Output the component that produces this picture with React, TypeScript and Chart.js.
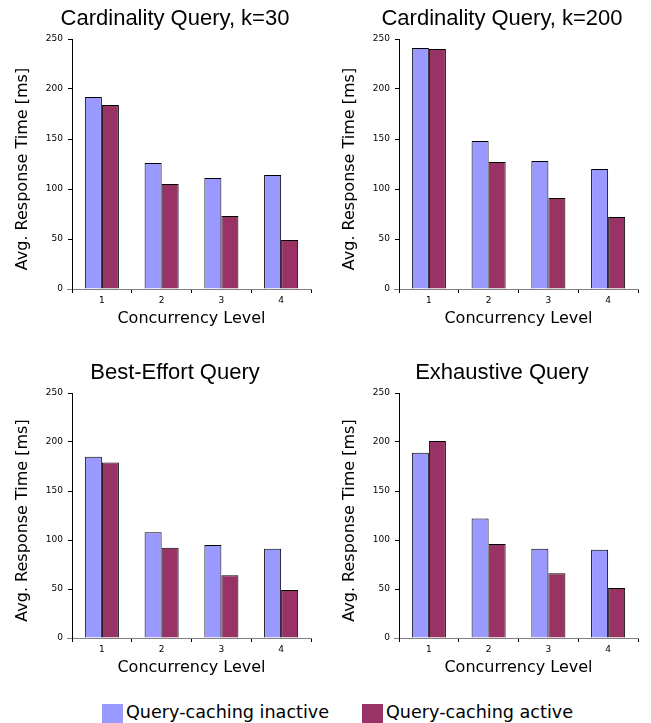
import React, { useEffect, useRef } from "react";
import { Chart, registerables } from "chart.js";

Chart.register(...registerables);

const categories = ["1", "2", "3", "4"];
const seriesNames = ["Query-caching inactive", "Query-caching active"];
const seriesColors = ["#9999ff", "#993366"];

const card30Inactive = [192, 126, 111, 114];
const card30Active = [184, 105, 73, 49];
const card200Inactive = [241, 148, 128, 120];
const card200Active = [240, 127, 91, 72];
const bestEffortInactive = [185, 108, 95, 91];
const bestEffortActive = [179, 92, 64, 49];
const exhaustiveInactive = [189, 122, 91, 90];
const exhaustiveActive = [201, 96, 66, 51];

const titles = [
  "Cardinality Query, k=30",
  "Cardinality Query, k=200",
  "Best-Effort Query",
  "Exhaustive Query",
];
const yTitle = "Avg. Response Time [ms]";
const xTitle = "Concurrency Level";
const yMin = 0;
const yMax = 250;
const yStep = 50;

const panelTextPlugin = {
  id: "panelText",
  afterDraw(chart: any, _args: any, opts: any) {
    const { ctx, chartArea } = chart;
    ctx.save();
    ctx.fillStyle = "#000";
    ctx.textAlign = "center";
    ctx.textBaseline = "alphabetic";
    ctx.font = '22px "Liberation Sans"';
    ctx.fillText(opts.title, opts.titleX, opts.titleBaseline);
    ctx.translate(opts.yTitleX, (chartArea.top + chartArea.bottom) / 2 + opts.yTitleShift);
    ctx.rotate(-Math.PI / 2);
    ctx.font = '16px "DejaVu Sans"';
    ctx.fillText(opts.yTitle, 0, 0);
    ctx.restore();
    // grey extension of the x axis line to the left of the y axis, as in the original
    ctx.save();
    ctx.strokeStyle = "#808080";
    ctx.lineWidth = 1;
    ctx.beginPath();
    ctx.moveTo(chartArea.left - 5, Math.round(chartArea.bottom) + 0.5);
    ctx.lineTo(chartArea.left, Math.round(chartArea.bottom) + 0.5);
    ctx.stroke();
    ctx.restore();
  },
};

type PanelProps = {
  title: string;
  inactive: number[];
  active: number[];
  left: number;
  top: number;
  width: number;
  height: number;
  areaTop: number;
  rightPad: number;
  titleBaseline: number;
};

function Panel(p: PanelProps) {
  const ref = useRef<HTMLCanvasElement | null>(null);
  useEffect(() => {
    if (!ref.current) return;
    const tickFont = { family: "DejaVu Sans", size: 9 };
    const chart = new Chart(ref.current, {
      type: "bar",
      data: {
        labels: categories,
        datasets: [p.inactive, p.active].map((d, i) => ({
          label: seriesNames[i],
          data: d,
          backgroundColor: seriesColors[i],
          borderColor: "#000",
          borderWidth: 1,
          categoryPercentage: 0.57,
          barPercentage: 1,
        })),
      },
      options: {
        responsive: false,
        animation: false,
        events: [],
        layout: { padding: { left: 0, right: p.rightPad, top: p.areaTop, bottom: 0 } },
        plugins: {
          legend: { display: false },
          tooltip: { enabled: false },
          title: { display: false },
          panelText: {
            title: p.title,
            titleX: 175,
            titleBaseline: p.titleBaseline,
            yTitle: yTitle,
            yTitleX: 27,
            yTitleShift: 5,
          },
        } as any,
        scales: {
          x: {
            grid: { offset: true, drawOnChartArea: false, drawTicks: true, tickLength: 4, color: "#000" },
            border: { display: true, color: "#808080", width: 1 },
            ticks: { font: tickFont, color: "#000", padding: 2 },
            title: {
              display: true,
              text: xTitle,
              color: "#000",
              font: { family: "DejaVu Sans", size: 16 },
              padding: { top: 0, bottom: 12 },
            },
            afterFit: (s: any) => {
              s.height = 51;
            },
          },
          y: {
            min: yMin,
            max: yMax,
            grid: { drawOnChartArea: false, drawTicks: true, tickLength: 4, color: "#000" },
            border: { display: true, color: "#000", width: 1 },
            ticks: { stepSize: yStep, font: tickFont, color: "#000", padding: 5 },
            afterFit: (s: any) => {
              s.width = 72;
            },
          },
        },
      },
      plugins: [panelTextPlugin],
    });
    return () => chart.destroy();
  }, []);
  return (
    <canvas
      ref={ref}
      width={p.width}
      height={p.height}
      style={{ position: "absolute", left: p.left, top: p.top, width: p.width, height: p.height, display: "block" }}
    />
  );
}

export default function App() {
  const legendText: React.CSSProperties = {
    fontFamily: '"DejaVu Sans"',
    fontSize: 17.6,
    lineHeight: "20px",
    color: "#000",
    whiteSpace: "nowrap",
  };
  const legendLeft = [102, 362];
  return (
    <div style={{ position: "absolute", left: 0, top: 0, width: 651, height: 723, overflow: "hidden", background: "#fff" }}>
      <Panel title={titles[0]} inactive={card30Inactive} active={card30Active} left={0} top={0} width={325} height={340} areaTop={39} rightPad={14} titleBaseline={25} />
      <Panel title={titles[1]} inactive={card200Inactive} active={card200Active} left={327} top={0} width={324} height={340} areaTop={39} rightPad={13} titleBaseline={25} />
      <Panel title={titles[2]} inactive={bestEffortInactive} active={bestEffortActive} left={0} top={355} width={325} height={334} areaTop={38} rightPad={14} titleBaseline={24} />
      <Panel title={titles[3]} inactive={exhaustiveInactive} active={exhaustiveActive} left={327} top={355} width={324} height={334} areaTop={38} rightPad={13} titleBaseline={24} />
      {seriesNames.map((n, i) => (
        <div key={n} style={{ position: "absolute", left: legendLeft[i], top: 702, display: "flex", alignItems: "flex-start" }}>
          <div style={{ width: 21, height: 19, marginTop: 2, marginRight: 3, background: seriesColors[i] }} />
          <div style={legendText}>{n}</div>
        </div>
      ))}
    </div>
  );
}
